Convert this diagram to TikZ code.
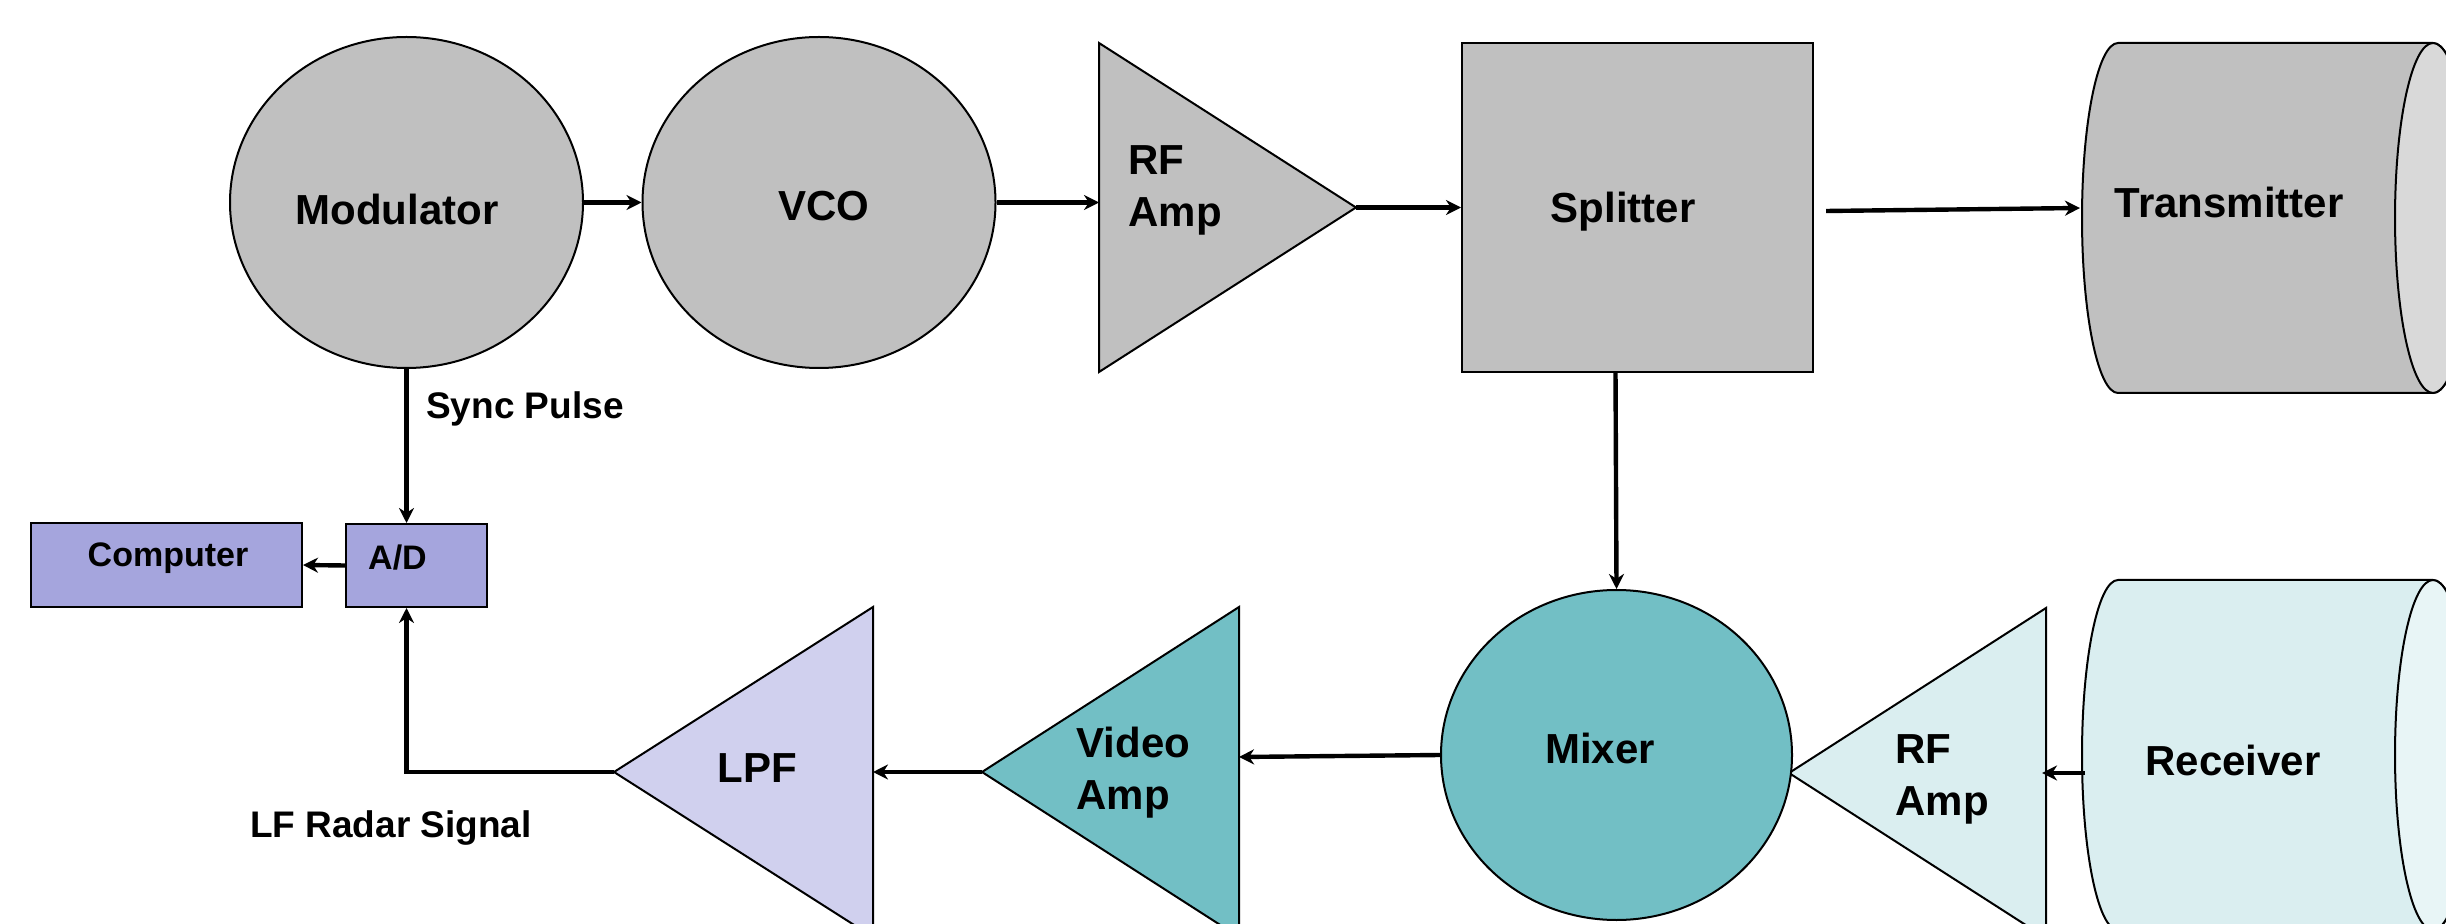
\documentclass[tikz,border=0pt]{standalone}
\usepackage{fontspec}
\setmainfont{Liberation Sans}
\usetikzlibrary{shapes.geometric,arrows.meta,calc}

\definecolor{boxgray}{HTML}{C0C0C0}
\definecolor{facegray}{HTML}{D9D9D9}
\definecolor{adpurple}{HTML}{A5A5DD}
\definecolor{lpflav}{HTML}{D0D0EE}
\definecolor{mixteal}{HTML}{72BFC5}
\definecolor{rxcyan}{HTML}{DAEEF0}
\definecolor{rxface}{HTML}{E8F5F6}

\begin{document}
\begin{tikzpicture}[x=0.5pt,y=-0.5pt,
  outline/.style={draw=black,line width=1pt},
  oval/.style={outline,ellipse,inner sep=0pt,minimum width=176.5pt,minimum height=165.5pt},
  blockbox/.style={outline,rectangle,inner sep=0pt},
  wire/.style={line width=2.2pt,line join=miter},
  flow/.style={wire,-{Stealth[length=7.5pt,width=7.5pt,inset=2.4pt]}},
  lbl/.style={font=\fontsize{21}{26}\selectfont\bfseries,inner sep=0pt},
  lbllines/.style={lbl,align=left,anchor=north west},
  note/.style={font=\fontsize{18.5}{22}\selectfont\bfseries,inner sep=0pt},
  smalllbl/.style={font=\fontsize{17}{20}\selectfont\bfseries,inner sep=0pt},
]
\useasboundingbox (0,0) rectangle (2446,924);
\clip (0,0) rectangle (2446,924);

% ---------- transmit chain ----------
\node[oval,fill=boxgray] (modulator) at (406.5,202.5) {};
\node[oval,fill=boxgray] (vco) at (819,202.5) {};

% RF amplifier (transmit side)
\draw[outline,fill=boxgray] (1099,43) -- (1356,207.5) -- (1099,372) -- cycle;
\coordinate (rfaTin) at (1099,202.5);
\coordinate (rfaTout) at (1356,207.5);

\node[blockbox,fill=boxgray,minimum width=175.5pt,minimum height=164.5pt] (splitter) at (1637.5,207.5) {};

% transmitter drum
\draw[outline,fill=boxgray] (2118,43) -- (2433,43)
  arc[start angle=-90,end angle=90,x radius=38,y radius=175]
  -- (2118,393)
  arc[start angle=90,end angle=270,x radius=36,y radius=175] -- cycle;
\draw[outline,fill=facegray] (2433,218) ellipse[x radius=38,y radius=175];
\coordinate (txin) at (2080,208);

% ---------- receive chain ----------
\draw[outline,fill=rxcyan] (2118,580) -- (2433,580)
  arc[start angle=-90,end angle=90,x radius=38,y radius=175]
  -- (2118,930)
  arc[start angle=90,end angle=270,x radius=36,y radius=175] -- cycle;
\draw[outline,fill=rxface] (2433,755) ellipse[x radius=38,y radius=175];
\coordinate (rxout) at (2085,773);

% RF amplifier (receive side)
\draw[outline,fill=rxcyan] (2046,608) -- (1789,773) -- (2046,938) -- cycle;
\coordinate (rfaRin) at (2042,773);
\coordinate (rfaRout) at (1789,773);

\node[oval,fill=mixteal,minimum width=175.5pt,minimum height=165pt] (mixer) at (1616.5,755) {};

% video amplifier
\draw[outline,fill=mixteal] (1239,607) -- (982,772) -- (1239,937) -- cycle;
\coordinate (vain) at (1239,757);
\coordinate (vaout) at (982,772);

% low-pass filter
\draw[outline,fill=lpflav] (873,607) -- (614,772) -- (873,937) -- cycle;
\coordinate (lpfin) at (873,772);
\coordinate (lpfout) at (614,772);

% acquisition
\node[blockbox,fill=adpurple,minimum width=135.5pt,minimum height=42pt] (computer) at (166.5,565) {};
\node[blockbox,fill=adpurple,minimum width=70.5pt,minimum height=41.5pt] (ad) at (416.5,565.5) {};

% ---------- connectors ----------
\draw[flow] (modulator.east) -- (vco.west);
\draw[flow] (vco.east) -- (rfaTin);
\draw[flow] (rfaTout) -- (splitter.west);
\draw[flow] ($(splitter.east)+(12,3.5)$) -- (txin);
\draw[flow] ($(splitter.south)+(-22,0)$) -- (mixer.north);
\draw[flow] (rxout) -- (rfaRin);
\draw[flow] (mixer.west) -- (vain);
\draw[flow] (vaout) -- (lpfin);
\draw[flow] (modulator.south) -- (modulator.south |- ad.north);
\draw[flow] (lpfout) -| (modulator.south |- ad.south);
\draw[flow] (ad.west) -- (computer.east);

% ---------- labels ----------
\node[lbl,anchor=base] (modtxt) at (397,225) {Modulator};
\node[lbl,anchor=base] (vcotxt) at (824,221) {VCO};
\node[lbllines] (rfaTtxt) at (1128,145) {RF\\Amp};
\node[lbl,anchor=base] (splittxt) at (1623,223) {Splitter};
\node[lbl,anchor=base] (txtxt) at (2229,218) {Transmitter};
\node[lbl,anchor=base] (rxtxt) at (2233,775) {Receiver};
\node[lbllines] (rfaRtxt) at (1895,734) {RF\\Amp};
\node[lbl,anchor=base] (mixtxt) at (1600,763) {Mixer};
\node[lbllines] (vatxt) at (1076,727) {Video\\Amp};
\node[lbl,anchor=base] (lpftxt) at (757,782) {LPF};
\node[smalllbl,anchor=base] (comptxt) at (168,567) {Computer};
\node[smalllbl,anchor=base] (adtxt) at (397.5,569) {A/D};
\node[note,anchor=base] (synctxt) at (525,419) {Sync Pulse};
\node[note,anchor=base] (lftxt) at (391,837) {LF Radar Signal};
\end{tikzpicture}
\end{document}
